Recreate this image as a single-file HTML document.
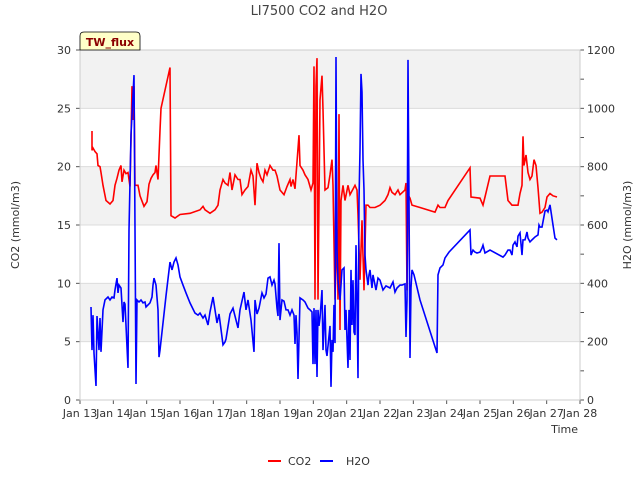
<!DOCTYPE html>
<html><head><meta charset="utf-8"><style>
body{margin:0;background:#fff;font-family:"Liberation Sans","DejaVu Sans",sans-serif;}
svg text{font-family:"DejaVu Sans","Liberation Sans",sans-serif;}
</style></head><body>
<svg id="chart" width="640" height="480" xmlns="http://www.w3.org/2000/svg">
<text x="319" y="15" text-anchor="middle" font-size="13" fill="#444">LI7500 CO2 and H2O</text>
<g id="bands"></g>
<g id="axes"></g>
<g id="series"></g>
<g>
<path d="M80,50 L80,36 Q80,32 84,32 L136,32 Q140,32 140,36 L140,50 Z" fill="#ffffc8" stroke="#000" stroke-width="0.8"/>
<text x="110" y="46" text-anchor="middle" font-size="11" font-weight="bold" fill="#8b0000">TW_flux</text>
</g>
<text transform="translate(19,225) rotate(-90)" text-anchor="middle" font-size="11" fill="#333">CO2 (mmol/m3)</text>
<text transform="translate(631,225) rotate(-90)" text-anchor="middle" font-size="11" fill="#333">H2O (mmol/m3)</text>
<text x="578" y="433" text-anchor="end" font-size="11" fill="#333">Time</text>
<g>
<line x1="268" y1="461" x2="281" y2="461" stroke="#f00" stroke-width="2"/>
<text x="288" y="465" font-size="11" fill="#333">CO2</text>
<line x1="320" y1="461" x2="333" y2="461" stroke="#00f" stroke-width="2"/>
<text x="346" y="465" font-size="11" fill="#333">H2O</text>
</g>
</svg>
<script>
const xTickLabels=["Jan 13","Jan 14","Jan 15","Jan 16","Jan 17","Jan 18","Jan 19","Jan 20","Jan 21","Jan 22","Jan 23","Jan 24","Jan 25","Jan 26","Jan 27","Jan 28"];
const leftTicks=[0,5,10,15,20,25,30];
const rightTicks=[0,200,400,600,800,1000,1200];
const co2Days=[.36,.36,.39,.45,.51,.54,.6,.63,.69,.78,.9,.99,1.05,1.11,1.17,1.23,1.26,1.32,1.38,1.44,1.5,1.53,1.56,1.59,1.62,1.65,1.74,1.8,1.92,2.01,2.07,2.13,2.19,2.25,2.28,2.34,2.4,2.43,2.7,2.73,2.85,3.0,3.3,3.6,3.69,3.75,3.9,4.05,4.14,4.2,4.29,4.35,4.44,4.5,4.56,4.65,4.74,4.8,4.86,4.95,5.04,5.13,5.19,5.25,5.31,5.37,5.43,5.49,5.55,5.61,5.7,5.79,5.85,5.91,6.0,6.12,6.21,6.3,6.33,6.39,6.45,6.51,6.57,6.6,6.69,6.75,6.84,6.93,6.99,7.02,7.05,7.08,7.11,7.14,7.2,7.26,7.29,7.35,7.44,7.5,7.56,7.59,7.65,7.71,7.74,7.77,7.8,7.83,7.89,7.95,8.04,8.1,8.25,8.31,8.34,8.4,8.46,8.52,8.58,8.64,8.7,8.85,9.0,9.15,9.24,9.3,9.36,9.45,9.54,9.6,9.75,9.78,9.81,9.84,9.9,9.96,10.2,10.65,10.74,10.8,10.95,11.04,11.7,11.73,12.0,12.09,12.15,12.3,12.51,12.75,12.84,12.96,13.14,13.2,13.26,13.29,13.32,13.38,13.44,13.5,13.56,13.62,13.68,13.74,13.8,13.86,13.95,14.01,14.1,14.19,14.31];
const co2Values=[23.06,21.4,21.6,21.3,21.1,20.1,20.0,19.5,18.4,17.1,16.8,17.1,18.4,19.0,19.7,20.1,18.7,19.7,19.4,19.5,18.3,22.3,26.9,24.0,26.9,18.4,18.4,17.5,16.6,17.0,18.5,19.0,19.3,19.5,20.1,18.9,23.1,25.0,28.5,15.8,15.6,15.9,16.0,16.3,16.6,16.3,16.0,16.3,16.7,18.0,18.9,18.6,18.4,19.5,18.0,19.3,18.9,18.9,17.6,18.0,18.3,19.7,19.2,16.7,20.3,19.5,19.0,18.7,19.7,19.3,20.1,19.7,19.7,19.2,18.0,17.6,18.3,18.9,18.3,18.9,18.1,20.4,22.7,20.1,19.7,19.3,18.9,18.0,18.6,28.6,8.6,26.9,29.3,8.6,25.7,27.8,24.9,18.0,18.2,19.3,20.6,18.4,8.6,14.6,8.6,24.5,6.0,17.1,18.4,17.1,18.4,17.6,18.4,18.0,15.9,10.3,15.4,9.4,16.7,16.7,16.5,16.5,16.7,17.1,17.6,18.2,17.8,17.6,18.0,17.6,18.0,18.6,9.4,17.6,17.3,16.7,16.5,16.1,16.7,16.5,16.5,17.1,19.9,17.4,17.3,16.7,17.4,19.2,19.2,19.2,17.1,16.7,16.7,17.7,18.4,22.6,20.1,21.0,19.5,18.9,19.2,20.6,20.1,18.2,16.0,16.1,16.5,17.4,17.7,17.5,17.4];
const h2oDays=[.33,.36,.39,.42,.48,.51,.57,.6,.63,.69,.75,.84,.9,.96,1.02,1.05,1.11,1.14,1.17,1.23,1.29,1.32,1.35,1.44,1.47,1.53,1.62,1.68,1.71,1.77,1.83,1.89,1.95,1.98,2.04,2.1,2.16,2.19,2.22,2.28,2.34,2.37,2.4,2.58,2.7,2.76,2.82,2.88,2.94,3.0,3.09,3.18,3.3,3.45,3.54,3.6,3.69,3.75,3.84,3.9,3.99,4.05,4.11,4.17,4.26,4.29,4.35,4.38,4.5,4.59,4.74,4.8,4.92,4.98,5.04,5.13,5.22,5.25,5.31,5.37,5.46,5.52,5.58,5.64,5.7,5.76,5.82,5.85,5.91,5.94,5.97,6.0,6.06,6.12,6.18,6.24,6.3,6.36,6.42,6.45,6.48,6.51,6.54,6.6,6.69,6.75,6.84,6.9,6.96,6.99,7.02,7.05,7.08,7.11,7.14,7.17,7.2,7.26,7.29,7.32,7.35,7.38,7.41,7.5,7.53,7.56,7.59,7.62,7.65,7.68,7.71,7.74,7.8,7.86,7.92,7.95,7.98,8.04,8.07,8.1,8.13,8.16,8.19,8.22,8.25,8.28,8.31,8.34,8.37,8.4,8.43,8.46,8.49,8.52,8.55,8.58,8.64,8.67,8.7,8.76,8.79,8.88,8.94,9.0,9.09,9.18,9.3,9.39,9.45,9.51,9.6,9.66,9.75,9.78,9.81,9.84,9.87,9.9,9.93,9.96,10.02,10.2,10.71,10.74,10.8,10.89,10.95,11.01,11.07,11.7,11.73,11.79,11.85,11.91,12.0,12.06,12.09,12.15,12.3,12.69,12.75,12.84,12.9,12.96,12.99,13.05,13.11,13.14,13.2,13.26,13.29,13.35,13.41,13.44,13.5,13.56,13.65,13.74,13.77,13.8,13.86,13.95,14.01,14.04,14.1,14.19,14.25,14.31];
const h2oValues=[319,171,291,161,48,288,171,281,165,309,343,353,343,353,350,377,418,367,394,384,267,336,329,110,583,909,1114,55,343,336,343,333,336,319,326,333,353,394,418,394,309,147,171,357,473,446,473,487,463,422,394,367,333,298,291,298,281,291,257,302,353,309,264,295,216,189,199,209,295,315,247,309,370,309,343,274,165,343,295,315,367,350,363,418,422,394,411,398,315,288,538,274,343,339,309,309,291,309,291,192,291,230,72,350,343,336,315,309,302,123,315,123,309,79,309,254,281,377,171,250,326,171,151,254,45,206,165,326,195,1176,514,411,343,446,453,240,309,110,309,137,446,257,411,233,223,531,343,75,686,857,1118,1056,823,720,497,446,394,429,446,384,429,377,418,411,377,391,384,405,370,384,394,394,398,216,343,1166,686,144,384,446,429,343,161,429,453,463,487,497,507,583,497,514,507,504,507,521,531,504,514,490,497,514,514,497,531,542,525,562,573,497,549,549,576,555,542,549,559,566,600,593,593,648,651,645,669,600,555,549];

const L=80,R=580,T=50,B=400,NS="http://www.w3.org/2000/svg";
const xs=d=>L+d*(R-L)/15;
const yl=v=>B-v*(B-T)/30;
const yr=v=>B-v*(B-T)/1200;
function mk(tag,attrs,parent){const e=document.createElementNS(NS,tag);for(const k in attrs)e.setAttribute(k,attrs[k]);parent.appendChild(e);return e;}
const bands=document.getElementById('bands'),axes=document.getElementById('axes'),series=document.getElementById('series');
for(let i=1;i<leftTicks.length;i+=2){
  const r=mk('rect',{x:L,y:yl(leftTicks[i+1]!==undefined?leftTicks[i+1]:30),width:R-L,height:yl(leftTicks[i])-yl(leftTicks[i+1]),fill:'#f2f2f2'},bands);
  
  
}
leftTicks.forEach(v=>{
  const g=mk('line',{x1:L,x2:R,y1:yl(v),y2:yl(v),stroke:'#dcdcdc','stroke-width':1},bands);
  
  
  mk('line',{x1:L-4,x2:L,y1:yl(v),y2:yl(v),stroke:'#555'},axes);
  const t=mk('text',{x:L-9,y:yl(v)+4,'text-anchor':'end','font-size':11,fill:'#333'},axes);
  t.textContent=v;
  
  
});
for(let v=0;v<=1200;v+=100) mk('line',{x1:R,x2:R+4,y1:yr(v),y2:yr(v),stroke:'#555'},axes);
rightTicks.forEach(v=>{
  const t=mk('text',{x:R+7,y:yr(v)+4,'font-size':11,fill:'#333'},axes);
  t.textContent=v;
  
  
});
xTickLabels.forEach((s,i)=>{
  mk('line',{x1:xs(i),x2:xs(i),y1:B,y2:B+4,stroke:'#555'},axes);
  const t=mk('text',{x:xs(i),y:B+17,'text-anchor':'middle','font-size':11,fill:'#333'},axes);
  t.textContent=s;
  
  
});
const fr=mk('rect',{x:L,y:T,width:R-L,height:B-T,fill:'none',stroke:'#ccc'},axes);


const co2=mk('polyline',{points:co2Days.map((d,i)=>xs(d)+','+yl(co2Values[i])).join(' '),fill:'none',stroke:'#f00','stroke-width':1.6},series);


const h2o=mk('polyline',{points:h2oDays.map((d,i)=>xs(d)+','+yr(h2oValues[i])).join(' '),fill:'none',stroke:'#00f','stroke-width':1.6},series);


</script>
</body></html>
